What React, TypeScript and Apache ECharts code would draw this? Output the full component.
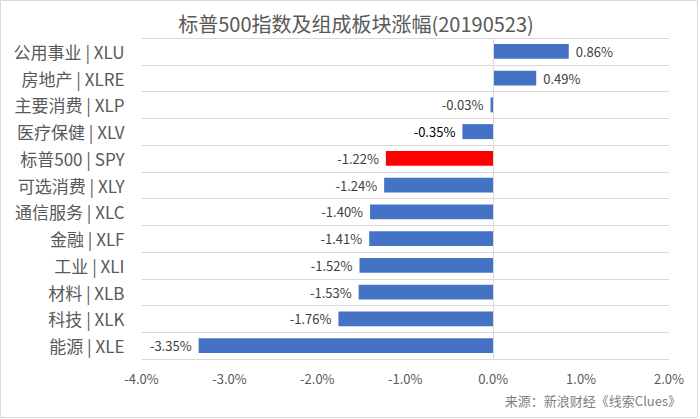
import React, { useEffect, useRef } from "react";
import * as echarts from "echarts";

const categories = [
  "公用事业 | XLU",
  "房地产 | XLRE",
  "主要消费 | XLP",
  "医疗保健 | XLV",
  "标普500 | SPY",
  "可选消费 | XLY",
  "通信服务 | XLC",
  "金融 | XLF",
  "工业 | XLI",
  "材料 | XLB",
  "科技 | XLK",
  "能源 | XLE",
];
const values = [0.86, 0.49, -0.03, -0.35, -1.22, -1.24, -1.4, -1.41, -1.52, -1.53, -1.76, -3.35];
const highlightCategory = "标普500 | SPY";
const darkLabelCategory = "医疗保健 | XLV";
const titleText = "标普500指数及组成板块涨幅(20190523)";
const sourceText = "来源：新浪财经《线索Clues》";

const FONT = "'Noto Sans CJK SC', 'Noto Sans', sans-serif";

export default function App() {
  const ref = useRef<HTMLDivElement>(null);
  useEffect(() => {
    if (!ref.current) return;
    const chart = echarts.init(ref.current, null, { renderer: "svg" });
    const data = values.map((v, i) => {
      const isHi = categories[i] === highlightCategory;
      const isDark = categories[i] === darkLabelCategory;
      return {
        value: v,
        itemStyle: { color: isHi ? "#FF0000" : "#4472C4" },
        label: {
          position: v >= 0 ? "right" : "left",
          color: isDark ? "#000000" : "#404040",
        },
      };
    });
    chart.setOption({
      animation: false,
      backgroundColor: "#ffffff",
      textStyle: { fontFamily: FONT },
      title: {
        text: titleText,
        left: 351,
        textAlign: "center",
        top: 8,
        textStyle: { fontSize: 20, fontWeight: "normal", color: "#595959", fontFamily: FONT },
      },
      grid: { left: 141.5, right: 31, top: 38, bottom: 60, containLabel: false },
      xAxis: {
        type: "value",
        min: -4,
        max: 2,
        interval: 1,
        axisLine: { show: false },
        axisTick: { show: false },
        splitLine: { show: false },
        axisLabel: {
          formatter: (v: number) => v.toFixed(1) + "%",
          color: "#595959",
          fontSize: 13,
          margin: 13,
          fontFamily: FONT,
        },
      },
      yAxis: {
        type: "category",
        data: categories,
        inverse: true,
        axisLine: { show: false },
        axisTick: { show: false },
        splitLine: { show: true, lineStyle: { color: "#d9d9d9", width: 1 } },
        axisLabel: { color: "#595959", fontSize: 17, margin: 17, fontFamily: FONT, padding: [0, 0, 3, 0] },
      },
      series: [
        {
          type: "bar",
          data,
          barWidth: "56%",
          label: {
            show: true,
            fontSize: 13,
            distance: 7,
            fontFamily: FONT,
            formatter: (p: any) => p.value.toFixed(2) + "%",
          },
          markLine: {
            silent: true,
            symbol: "none",
            label: { show: false },
            lineStyle: { color: "#d9d9d9", type: "solid", width: 1 },
            data: [{ xAxis: 0 }],
          },
        },
      ],
      graphic: [
        {
          type: "rect",
          shape: { x: 0.5, y: 0.5, width: 697, height: 417 },
          style: { fill: "none", stroke: "#d9d9d9", lineWidth: 1 },
          silent: true,
        },
        {
          type: "text",
          right: 19,
          top: 394,
          style: { text: sourceText, fontSize: 13, fill: "#7f7f7f", fontFamily: FONT },
        },
      ],
    });
    return () => chart.dispose();
  }, []);
  return (
    <div
      ref={ref}
      style={{ position: "fixed", left: 0, top: 0, width: 700, height: 419 }}
    />
  );
}
